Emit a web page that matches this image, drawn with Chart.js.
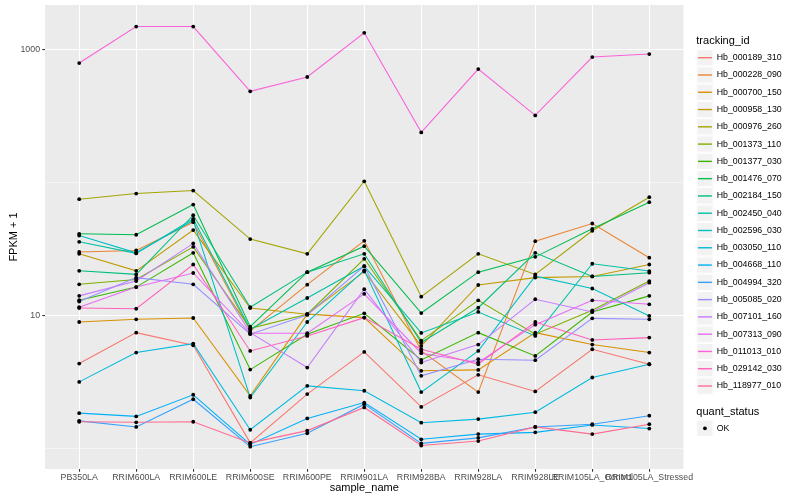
<!DOCTYPE html>
<html><head><meta charset="utf-8">
<script src="https://cdn.jsdelivr.net/npm/chart.js@4.4.0/dist/chart.umd.min.js"></script>
<style>html,body{margin:0;padding:0;background:#fff;} canvas{display:block;}</style>
</head><body>
<canvas id="c" width="800" height="500"></canvas>
<script>
// ---- data ----
const categories = ["PB350LA","RRIM600LA","RRIM600LE","RRIM600SE","RRIM600PE","RRIM901LA","RRIM928BA","RRIM928LA","RRIM928LE","RRIM105LA_Control","RRIM105LA_Stressed"];
const trackingIds = ["Hb_000189_310","Hb_000228_090","Hb_000700_150","Hb_000958_130","Hb_000976_260","Hb_001373_110","Hb_001377_030","Hb_001476_070","Hb_002184_150","Hb_002450_040","Hb_002596_030","Hb_003050_110","Hb_004668_110","Hb_004994_320","Hb_005085_020","Hb_007101_160","Hb_007313_090","Hb_011013_010","Hb_029142_030","Hb_118977_010"];
const seriesColors = ["#F8766D","#EA8331","#D89000","#C09B00","#A3A500","#7CAE00","#39B600","#00BB4E","#00BF7D","#00C1A3","#00BFC4","#00BAE0","#00B0F6","#35A2FF","#9590FF","#C77CFF","#E76BF3","#FA62DB","#FF62BC","#FF6C91"];

const hb000189_310 = [4.34, 7.41, 5.96, 1.10, 2.56, 5.31, 2.05, 3.57, 2.68, 5.56, 4.29];
const hb000228_090 = [29.9, 30.7, 50.1, 7.63, 17.0, 36.3, 5.40, 2.65, 36.1, 49.0, 27.1];
const hb000700_150 = [8.91, 9.33, 9.55, 2.48, 10.2, 9.61, 3.83, 3.89, 7.41, 6.03, 5.25];
const hb000958_130 = [29.0, 21.6, 43.7, 11.35, 10.2, 21.3, 5.89, 16.9, 19.2, 19.6, 24.1];
const hb000976_260 = [74.6, 82.2, 86.6, 37.4, 29.0, 101.7, 13.8, 29.0, 20.3, 43.2, 77.2];
const hb001373_110 = [17.1, 18.6, 32.7, 7.99, 10.2, 26.6, 6.46, 12.96, 7.21, 10.9, 18.1];
const hb001377_030 = [13.0, 16.3, 29.5, 3.91, 7.21, 10.35, 4.62, 7.41, 4.95, 10.6, 14.0];
const hb001476_070 = [41.0, 40.3, 68.0, 8.22, 21.1, 33.1, 10.4, 21.1, 27.5, 44.7, 70.8];
const hb002184_150 = [21.6, 20.3, 56.5, 11.5, 21.1, 29.0, 6.24, 11.4, 29.5, 19.6, 20.9];
const hb002450_040 = [35.7, 29.2, 53.1, 7.85, 13.5, 23.4, 7.37, 10.6, 7.00, 24.4, 21.5];
const hb002596_030 = [39.8, 29.5, 51.6, 2.41, 8.91, 21.8, 2.65, 5.40, 19.7, 15.9, 9.89];
const hb003050_110 = [3.16, 5.25, 6.13, 1.38, 2.95, 2.71, 1.56, 1.66, 1.87, 3.41, 4.29];
const hb004668_110 = [1.84, 1.74, 2.53, 1.07, 1.68, 2.21, 1.17, 1.28, 1.32, 1.50, 1.41];
const hb004994_320 = [1.61, 1.45, 2.34, 1.03, 1.30, 2.15, 1.09, 1.20, 1.45, 1.52, 1.76];
const hb005085_020 = [12.7, 19.2, 17.1, 7.21, 10.06, 23.4, 3.51, 4.68, 4.60, 9.49, 9.33];
const hb007101_160 = [14.0, 18.1, 34.7, 7.41, 4.05, 15.7, 4.42, 6.03, 13.2, 10.6, 17.6];
const hb007313_090 = [11.5, 16.3, 20.8, 7.33, 7.33, 14.5, 5.19, 4.42, 8.51, 12.96, 12.1];
const hb011013_010 = [787, 1480, 1480, 482, 618, 1327, 237, 709, 318, 873, 919];
const hb029142_030 = [11.35, 11.2, 24.1, 5.40, 7.00, 9.61, 5.56, 4.29, 8.91, 6.53, 6.80];
const hb118977_010 = [1.585, 1.57, 1.585, 1.10, 1.36, 2.03, 1.05, 1.135, 1.45, 1.28, 1.52];

const seriesValues = [hb000189_310, hb000228_090, hb000700_150, hb000958_130, hb000976_260, hb001373_110, hb001377_030, hb001476_070, hb002184_150, hb002450_040, hb002596_030, hb003050_110, hb004668_110, hb004994_320, hb005085_020, hb007101_160, hb007313_090, hb011013_010, hb029142_030, hb118977_010];

const yGridValues = [1, 10, 100, 1000];
const yTickLabels = ["10", "1000"];
const quantStatus = ["OK"];

// ---- chart ----
const FONT = '"Liberation Sans", Arial, Helvetica, sans-serif';

const datasets = seriesValues.map((vals, i) => ({
  type: 'line',
  label: trackingIds[i],
  data: vals.map((v, j) => ({x: j, y: v})),
  borderColor: seriesColors[i],
  backgroundColor: seriesColors[i],
  borderWidth: 1.07,
  pointRadius: 0,
  tension: 0,
  fill: false,
  order: seriesValues.length - 1 - i
}));
const allPoints = [];
seriesValues.forEach(vals => vals.forEach((v, j) => allPoints.push({x: j, y: v})));
datasets.push({
  type: 'scatter',
  label: 'points',
  data: allPoints,
  pointRadius: 1.9,
  pointBackgroundColor: '#000',
  pointBorderWidth: 0,
  borderColor: '#000',
  showLine: false,
  order: -1
});

const panelBg = {
  id: 'panelBg',
  beforeDraw(chart) {
    const a = chart.chartArea, ctx = chart.ctx;
    ctx.save();
    ctx.fillStyle = '#EBEBEB';
    ctx.fillRect(a.left, a.top, a.right - a.left, a.bottom - a.top);
    ctx.restore();
  }
};

const ggLegend = {
  id: 'ggLegend',
  afterDraw(chart) {
    const ctx = chart.ctx;
    const x0 = 696.3, k = 17.28, tx = 716.7;
    ctx.save();
    ctx.textAlign = 'left';
    ctx.textBaseline = 'middle';
    ctx.fillStyle = '#000';
    ctx.font = '11px ' + FONT;
    ctx.fillText('tracking_id', x0, 40.7);
    trackingIds.forEach((id, i) => {
      const cy = 57.7 + k * i;
      ctx.fillStyle = '#F2F2F2';
      ctx.fillRect(x0, cy - k / 2, k, k);
      ctx.strokeStyle = '#FFFFFF';
      ctx.lineWidth = 1.07;
      ctx.strokeRect(x0 + 0.5, cy - k / 2 + 0.5, k - 1, k - 1);
      ctx.strokeStyle = seriesColors[i];
      ctx.lineWidth = 1.4;
      ctx.beginPath();
      ctx.moveTo(x0 + 1.7, cy);
      ctx.lineTo(x0 + k - 1.7, cy);
      ctx.stroke();
      ctx.fillStyle = '#000';
      ctx.font = '8.8px ' + FONT;
      ctx.fillText(id, tx, cy);
    });
    ctx.font = '11px ' + FONT;
    ctx.fillText('quant_status', x0, 411.7);
    quantStatus.forEach((q, i) => {
      const cy = 428.3 + k * i;
      ctx.fillStyle = '#F2F2F2';
      ctx.fillRect(x0, cy - k / 2, k, k);
      ctx.strokeStyle = '#FFFFFF';
      ctx.lineWidth = 1.07;
      ctx.strokeRect(x0 + 0.5, cy - k / 2 + 0.5, k - 1, k - 1);
      ctx.fillStyle = '#000';
      ctx.beginPath();
      ctx.arc(x0 + k / 2, cy, 1.9, 0, Math.PI * 2);
      ctx.fill();
      ctx.font = '8.8px ' + FONT;
      ctx.fillText(q, tx, cy);
    });
    ctx.restore();
  }
};

new Chart(document.getElementById('c'), {
  data: { datasets },
  options: {
    responsive: false,
    animation: false,
    devicePixelRatio: 1,
    layout: { padding: { left: 0, top: 5, right: 116.5, bottom: 0 } },
    plugins: { legend: { display: false }, tooltip: { enabled: false } },
    scales: {
      x: {
        type: 'linear',
        min: -0.6,
        max: 10.6,
        afterBuildTicks(scale) { scale.ticks = categories.map((c, i) => ({value: i})); },
        afterFit(scale) { scale.height = 31; scale.paddingLeft = 0; scale.paddingRight = 0; },
        ticks: {
          autoSkip: false, maxRotation: 0, minRotation: 0, padding: 1.5,
          color: '#4D4D4D',
          font: { family: FONT, size: 8.8, lineHeight: 1 },
          callback: (v) => categories[v] !== undefined ? categories[v] : ''
        },
        grid: { color: '#FFFFFF', lineWidth: 1.07, tickLength: 2.75, tickColor: '#333333', tickWidth: 1.07, drawTicks: true },
        border: { display: false },
        title: { display: true, text: 'sample_name', color: '#000', font: { family: FONT, size: 11, lineHeight: 1 }, padding: { top: 0, bottom: 7 } }
      },
      y: {
        type: 'logarithmic',
        min: 0.713,
        max: 2148,
        afterBuildTicks(scale) { scale.ticks = yGridValues.map(v => ({value: v})); },
        afterFit(scale) { scale.width = 45; scale.paddingTop = 0; scale.paddingBottom = 0; },
        ticks: {
          padding: 2.2,
          color: '#4D4D4D',
          font: { family: FONT, size: 8.8, lineHeight: 1 },
          callback: (v) => yTickLabels.includes(String(v)) ? String(v) : ''
        },
        grid: {
          color: '#FFFFFF',
          lineWidth: (c) => (c.tick && yTickLabels.includes(String(c.tick.value))) ? 1.07 : 0.53,
          tickLength: 2.75,
          tickWidth: 1.07,
          tickColor: (c) => (c.tick && yTickLabels.includes(String(c.tick.value))) ? '#333333' : 'rgba(0,0,0,0)',
          drawTicks: true
        },
        border: { display: false },
        title: { display: true, text: 'FPKM + 1', color: '#000', font: { family: FONT, size: 11, lineHeight: 1 }, padding: { top: 8.3, bottom: 0 } }
      }
    }
  },
  plugins: [panelBg, ggLegend]
});
</script>
</body></html>
